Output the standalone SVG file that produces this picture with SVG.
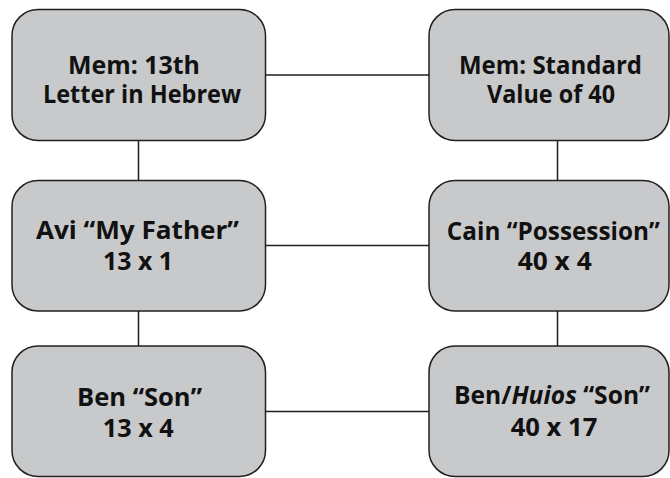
<svg xmlns="http://www.w3.org/2000/svg" width="670" height="478" viewBox="0 0 670 478">
<style>
.box{fill:#c8c9cb;stroke:#231f20;stroke-width:1.5}
.conn{stroke:#231f20;stroke-width:1.5;fill:none}
.t{font-family:"Open Sans","Liberation Sans",sans-serif;font-weight:bold;font-size:25px;fill:#111;text-anchor:middle}
</style>
<rect width="670" height="478" fill="#fff"/>
<g id="connectors">
<line class="conn" x1="265.5" y1="75" x2="429" y2="75"/>
<line class="conn" x1="265.5" y1="245.5" x2="429" y2="245.5"/>
<line class="conn" x1="265.5" y1="411.5" x2="429" y2="411.5"/>
<line class="conn" x1="138.5" y1="140" x2="138.5" y2="181"/>
<line class="conn" x1="138.5" y1="311" x2="138.5" y2="346"/>
<line class="conn" x1="557.5" y1="140" x2="557.5" y2="181"/>
<line class="conn" x1="557.5" y1="311" x2="557.5" y2="346"/>
</g>
<g id="n1">
<rect class="box" x="12" y="9.5" width="253.5" height="131" rx="26"/>
<text class="t" x="134" y="74" textLength="132" lengthAdjust="spacingAndGlyphs">Mem: 13th</text>
<text class="t" x="142" y="103" textLength="198" lengthAdjust="spacingAndGlyphs">Letter in Hebrew</text>
</g>
<g id="n2">
<rect class="box" x="429" y="9.5" width="240" height="131" rx="26"/>
<text class="t" x="550.5" y="74" textLength="183" lengthAdjust="spacingAndGlyphs">Mem: Standard</text>
<text class="t" x="551" y="103" textLength="128" lengthAdjust="spacingAndGlyphs">Value of 40</text>
</g>
<g id="n3">
<rect class="box" x="12" y="180.5" width="253.5" height="130.5" rx="26"/>
<text class="t" x="137.5" y="239" textLength="203" lengthAdjust="spacingAndGlyphs">Avi “My Father”</text>
<text class="t" x="138" y="270" textLength="70" lengthAdjust="spacingAndGlyphs">13 x 1</text>
</g>
<g id="n4">
<rect class="box" x="429" y="180.5" width="240" height="130.5" rx="26"/>
<text class="t" x="553.3" y="240" textLength="213" lengthAdjust="spacingAndGlyphs">Cain “Possession”</text>
<text class="t" x="554.7" y="270" textLength="74" lengthAdjust="spacingAndGlyphs">40 x 4</text>
</g>
<g id="n5">
<rect class="box" x="12" y="346" width="253.5" height="130.5" rx="26"/>
<text class="t" x="139.5" y="406" textLength="125" lengthAdjust="spacingAndGlyphs">Ben “Son”</text>
<text class="t" x="138.3" y="437" textLength="71" lengthAdjust="spacingAndGlyphs">13 x 4</text>
</g>
<g id="n6">
<rect class="box" x="429" y="346" width="240" height="130.5" rx="26"/>
<text class="t" x="552" y="404" textLength="196" lengthAdjust="spacingAndGlyphs">Ben/<tspan font-style="italic">Huios</tspan> “Son”</text>
<text class="t" x="554" y="436" textLength="86.6" lengthAdjust="spacingAndGlyphs">40 x 17</text>
</g>
</svg>
